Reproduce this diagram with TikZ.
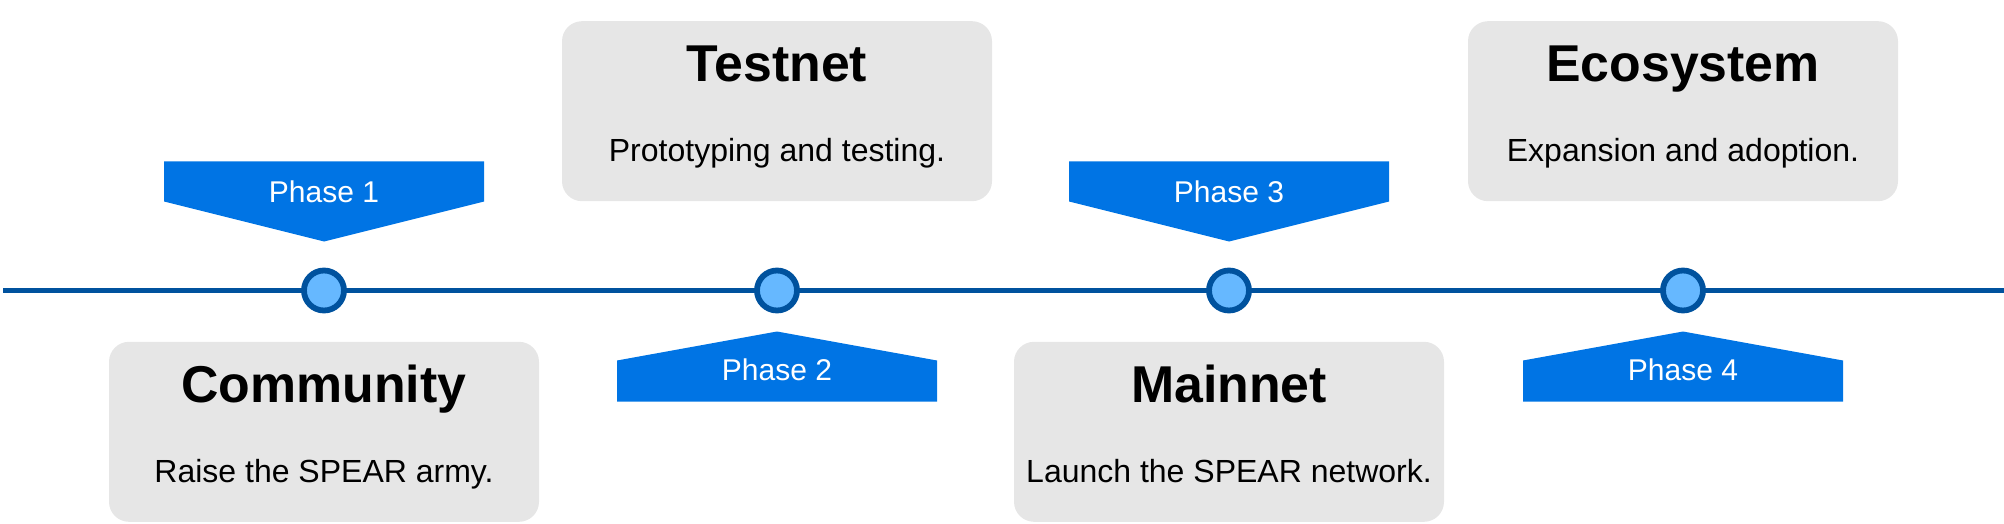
\documentclass[tikz,border=0pt]{standalone}
\usepackage{fontspec}
\setmainfont{Liberation Sans}
\usetikzlibrary{positioning,calc}
\definecolor{Track}{HTML}{00529E}
\definecolor{Dot}{HTML}{66B8FF}
\definecolor{Flag}{HTML}{0074E4}
\definecolor{Card}{HTML}{E6E6E6}

\begin{document}
\begin{tikzpicture}[
      x=0.5pt,y=-0.5pt,
      milestone/.style={circle,draw=Track,fill=Dot,line width=2.9pt,
        minimum size=20pt,inner sep=0pt},
      card/.style={fill=Card,rounded corners=10pt,
        minimum width=215pt,minimum height=90pt},
      title/.style={anchor=base,font=\fontsize{25.9}{30}\selectfont\bfseries},
      blurb/.style={anchor=base,font=\fontsize{16}{19}\selectfont},
      phase/.style={anchor=base,text=white,font=\fontsize{15}{18}\selectfont},
      flag/.style={fill=Flag}
    ]
      \useasboundingbox (0,0) rectangle (2004,524);
      % timeline
      \coordinate (start) at (3,290.5);
      \coordinate (end) at (2004,290.5);
      \draw[Track,line width=2.2pt] (start) -- (end);
      \node[milestone] (m1) at (324,290.5) {};
      \node[milestone] (m2) at (777,290.5) {};
      \node[milestone] (m3) at (1229,290.5) {};
      \node[milestone] (m4) at (1683,290.5) {};

      % cards
      \node[card,below=14pt of m1] (community) {};
      \node[card,above=33pt of m2] (testnet) {};
      \node[card,below=14pt of m3] (mainnet) {};
      \node[card,above=33pt of m4] (ecosystem) {};
      \node[title] (community-t) at ($(community.north)+(0,61)$) {Community};
      \node[blurb] (community-b) at ($(community.north)+(0,141)$) {Raise the SPEAR army.};
      \node[title] (testnet-t) at ($(testnet.north)+(0,61)$) {Testnet};
      \node[blurb] (testnet-b) at ($(testnet.north)+(0,141)$) {Prototyping and testing.};
      \node[title] (mainnet-t) at ($(mainnet.north)+(0,61)$) {Mainnet};
      \node[blurb] (mainnet-b) at ($(mainnet.north)+(0,141)$) {Launch the SPEAR network.};
      \node[title] (ecosystem-t) at ($(ecosystem.north)+(0,61)$) {Ecosystem};
      \node[blurb] (ecosystem-b) at ($(ecosystem.north)+(0,141)$) {Expansion and adoption.};

      % phase flags
      \fill[flag] ($(m1)+(-160,-129)$) -- ($(m1)+(160,-129)$) -- ($(m1)+(160,-89)$)
        -- ($(m1)+(0,-49)$) -- ($(m1)+(-160,-89)$) -- cycle;
      \node[phase] (p1) at ($(m1)+(0,-88)$) {Phase 1};
      \fill[flag] ($(m2)+(0,41)$) -- ($(m2)+(160,70)$) -- ($(m2)+(160,111)$)
        -- ($(m2)+(-160,111)$) -- ($(m2)+(-160,70)$) -- cycle;
      \node[phase] (p2) at ($(m2)+(0,90)$) {Phase 2};
      \fill[flag] ($(m3)+(-160,-129)$) -- ($(m3)+(160,-129)$) -- ($(m3)+(160,-89)$)
        -- ($(m3)+(0,-49)$) -- ($(m3)+(-160,-89)$) -- cycle;
      \node[phase] (p3) at ($(m3)+(0,-88)$) {Phase 3};
      \fill[flag] ($(m4)+(0,41)$) -- ($(m4)+(160,70)$) -- ($(m4)+(160,111)$)
        -- ($(m4)+(-160,111)$) -- ($(m4)+(-160,70)$) -- cycle;
      \node[phase] (p4) at ($(m4)+(0,90)$) {Phase 4};
    \end{tikzpicture}
\end{document}
